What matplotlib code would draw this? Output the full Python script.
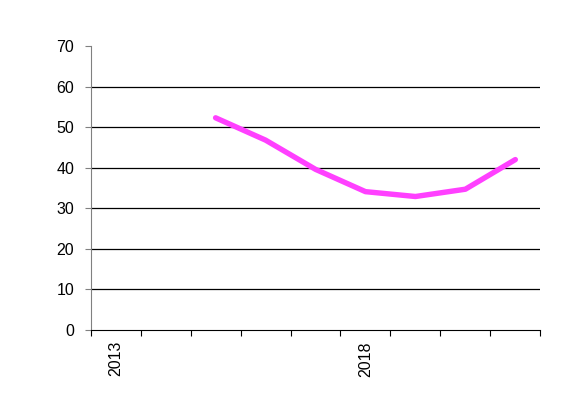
import matplotlib.pyplot as plt

plt.rcParams['font.family'] = ['Liberation Sans', 'DejaVu Sans']

# data
years = list(range(2013, 2022))
values = [None, None, 52.3, 46.8, 39.6, 34.1, 32.9, 34.7, 42.0]
year_labels = ['2013', '', '', '', '', '2018', '', '', '']
y_ticks = [0, 10, 20, 30, 40, 50, 60, 70]

fig = plt.figure(figsize=(5.64, 4.2), dpi=100)
ax = fig.add_axes([0.1608, 0.2143, 0.958 - 0.1608, 0.8905 - 0.2143])

xs = [i + 0.5 for i, v in enumerate(values) if v is not None]
ys = [v for v in values if v is not None]
ax.plot(xs, ys, color='#ff40ff', linewidth=3.9, solid_capstyle='round', zorder=3)

ax.set_xlim(0, len(years))
ax.set_ylim(0, 70)

# gridlines 10..60, none at the top
for y in y_ticks[1:-1]:
    ax.axhline(y, color='black', linewidth=0.9, zorder=1)

ax.set_yticks(y_ticks)
ax.set_yticklabels([str(t) for t in y_ticks], fontsize=11.5)
ax.set_xticks(range(len(years) + 1))
ax.set_xticklabels([])
ax.set_xticks([i + 0.5 for i in range(len(years))], minor=True)
ax.set_xticklabels(year_labels, minor=True, rotation=90, fontsize=11.5)
ax.tick_params(axis='x', which='minor', length=0, pad=8)
ax.tick_params(axis='x', which='major', length=4, direction='out', color='black')
ax.tick_params(axis='y', length=4, direction='out', pad=8, color='#808080')

for s in ['top', 'right']:
    ax.spines[s].set_visible(False)
ax.spines['left'].set_color('#808080')
ax.spines['bottom'].set_color('black')

fig.savefig('out.png', dpi=100)
